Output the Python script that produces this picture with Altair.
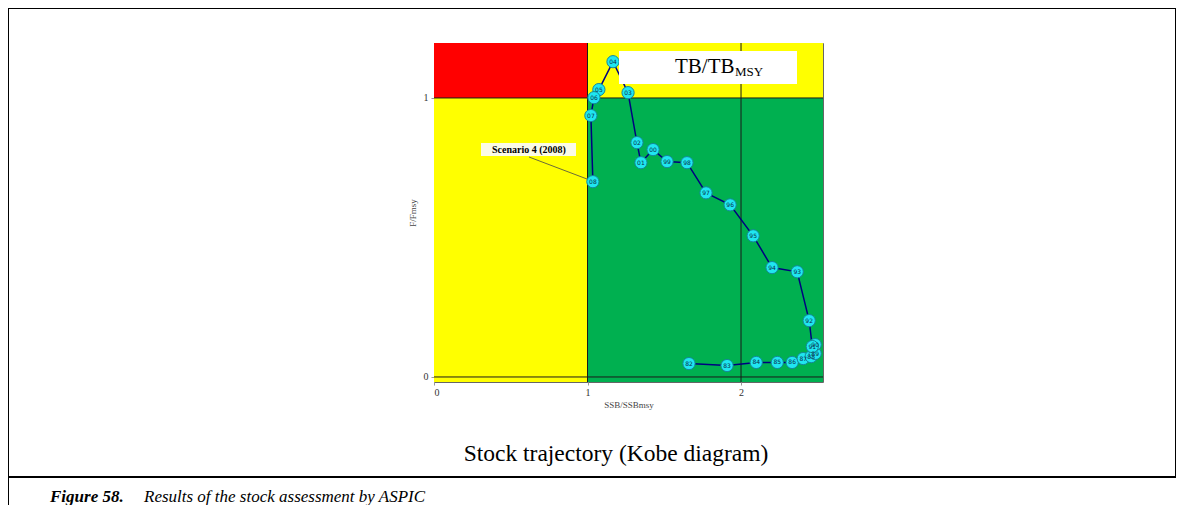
import altair as alt
import pandas as pd

# ---- data -------------------------------------------------------------
years = [str(y)[2:] for y in range(1982, 2009)]
ssb_ratio = [1.661, 1.909, 2.099, 2.236, 2.333, 2.405, 2.457, 2.483, 2.483, 2.464,
             2.444, 2.366, 2.202, 2.079, 1.929, 1.772, 1.648, 1.518, 1.427, 1.348,
             1.322, 1.264, 1.166, 1.074, 1.042, 1.022, 1.035]
f_ratio = [0.048, 0.041, 0.052, 0.052, 0.052, 0.066, 0.073, 0.084, 0.116, 0.109,
           0.202, 0.377, 0.392, 0.506, 0.617, 0.660, 0.768, 0.772, 0.815, 0.768,
           0.840, 1.019, 1.130, 1.030, 1.001, 0.937, 0.700]

X_MIN, X_MAX = 0.0, 2.534
Y_MIN, Y_MAX = -0.018, 1.197

quad_x = [0, 0, 1, 1]
quad_x2 = [1, 1, X_MAX, X_MAX]
quad_y = [1, Y_MIN, 1, Y_MIN]
quad_y2 = [Y_MAX, 1, Y_MAX, 1]
quad_color = ["#ff0000", "#ffff00", "#ffff00", "#00b050"]

vlines = [1, 2]
hlines = [0, 1]

x_ticks = [0, 1, 2]
y_ticks = [0, 1]

traj = pd.DataFrame({"idx": list(range(len(years))), "year": years,
                     "ssb": ssb_ratio, "f": f_ratio})
quads = pd.DataFrame({"x": quad_x, "x2": quad_x2, "y": quad_y, "y2": quad_y2,
                      "c": quad_color})
vdf = pd.DataFrame({"v": vlines})
hdf = pd.DataFrame({"h": hlines})
one = pd.DataFrame({"a": [0]})

SERIF = "Liberation Serif"

xs = alt.Scale(domain=[X_MIN, X_MAX], nice=False, zero=False)
ys = alt.Scale(domain=[Y_MIN, Y_MAX], nice=False, zero=False)

xaxis = alt.Axis(values=x_ticks, title="SSB/SSBmsy", grid=False, domain=False,
                 tickSize=3, tickColor="#999", labelPadding=2, format="d",
                 labelFont=SERIF, labelFontSize=10, labelColor="#333",
                 titleFont=SERIF, titleFontSize=9, titleFontWeight="normal",
                 titleColor="#444", titlePadding=3)
yaxis = alt.Axis(values=y_ticks, title="F/Fmsy", grid=False, domain=False,
                 tickSize=3, tickColor="#999", labelPadding=3, format="d",
                 labelFont=SERIF, labelFontSize=10, labelColor="#333",
                 titleFont=SERIF, titleFontSize=9, titleFontWeight="normal",
                 titleColor="#444", titlePadding=6)

bg = alt.Chart(quads).mark_rect(clip=True).encode(
    x=alt.X("x:Q", scale=xs, axis=xaxis), x2="x2:Q",
    y=alt.Y("y:Q", scale=ys, axis=yaxis), y2="y2:Q",
    color=alt.Color("c:N", scale=None, legend=None))

vr = alt.Chart(vdf).mark_rule(color="#1a1a1a", strokeWidth=1).encode(
    x=alt.X("v:Q", scale=xs))
hr = alt.Chart(hdf).mark_rule(color="#1a1a1a", strokeWidth=1).encode(
    y=alt.Y("h:Q", scale=ys))

line = alt.Chart(traj).mark_line(color="#000080", strokeWidth=1.5).encode(
    x=alt.X("ssb:Q", scale=xs), y=alt.Y("f:Q", scale=ys), order="idx:Q")
pts = alt.Chart(traj).mark_point(filled=True, shape="circle", size=150,
                                  fill="#1fe6f0", stroke="#14889a",
                                  strokeWidth=1, opacity=1).encode(
    x=alt.X("ssb:Q", scale=xs), y=alt.Y("f:Q", scale=ys))
lbl = alt.Chart(traj).mark_text(fontSize=6, font="DejaVu Sans", color="#0a2f4a").encode(
    x=alt.X("ssb:Q", scale=xs), y=alt.Y("f:Q", scale=ys), text="year:N")

# ---- annotations / page decorations (pixel positions, plot-relative) --
def rule(x1, x2, y1, y2, color="#000", w=2):
    return alt.Chart(one).mark_rule(color=color, strokeWidth=w).encode(
        x=alt.value(x1), x2=alt.value(x2), y=alt.value(y1), y2=alt.value(y2))

def box(x1, x2, y1, y2, fill):
    return alt.Chart(one).mark_rect(fill=fill).encode(
        x=alt.value(x1), x2=alt.value(x2), y=alt.value(y1), y2=alt.value(y2))

def txt(s, x, y, size, align="left", weight="normal", style="normal",
        baseline="alphabetic", font=SERIF):
    return alt.Chart(one).mark_text(text=s, align=align, baseline=baseline,
                                    fontSize=size, fontWeight=weight,
                                    fontStyle=style, font=font,
                                    color="#000").encode(
        x=alt.value(x), y=alt.value(y))

frame = [
    rule(-426, 742, -35, -35),
    rule(-426, -426, -35, 462),
    rule(742, 742, -35, 434),
    rule(-426, 742, 434, 434),
]

tb_box = box(185, 363, 8, 41, "#ffffff")
tb_t1 = txt("TB/TB", 241, 30, 21)
tb_t2 = txt("MSY", 301, 33, 13)

sc_box = box(47, 142, 100, 113, "#fbfbe6")
sc_txt = txt("Scenario 4 (2008)", 95, 107, 10, align="center", weight="bold",
             baseline="middle")
sc_lead = rule(95, 153, 114, 136, color="#6b6b3a", w=1)

cap1 = txt("Stock trajectory (Kobe diagram)", 182, 411, 23.5, align="center",
           baseline="middle")
cap2 = txt("Figure 58.", -384, 459, 17, weight="bold", style="italic")
cap3 = txt("Results of the stock assessment by ASPIC", -290, 459, 17,
           style="italic")

chart = alt.layer(
    bg, vr, hr, line, pts, lbl, tb_box, tb_t1, tb_t2, sc_lead, sc_box, sc_txt,
    cap1, cap2, cap3, *frame
).properties(
    width=389, height=339,
    autosize=alt.AutoSizeParams(type="none"),
    padding={"left": 426, "top": 35, "right": 353, "bottom": 123},
    background="#ffffff",
).configure_view(stroke="#666", strokeWidth=1)

chart.save("out.html", embed_options={"renderer": "svg", "actions": False})
